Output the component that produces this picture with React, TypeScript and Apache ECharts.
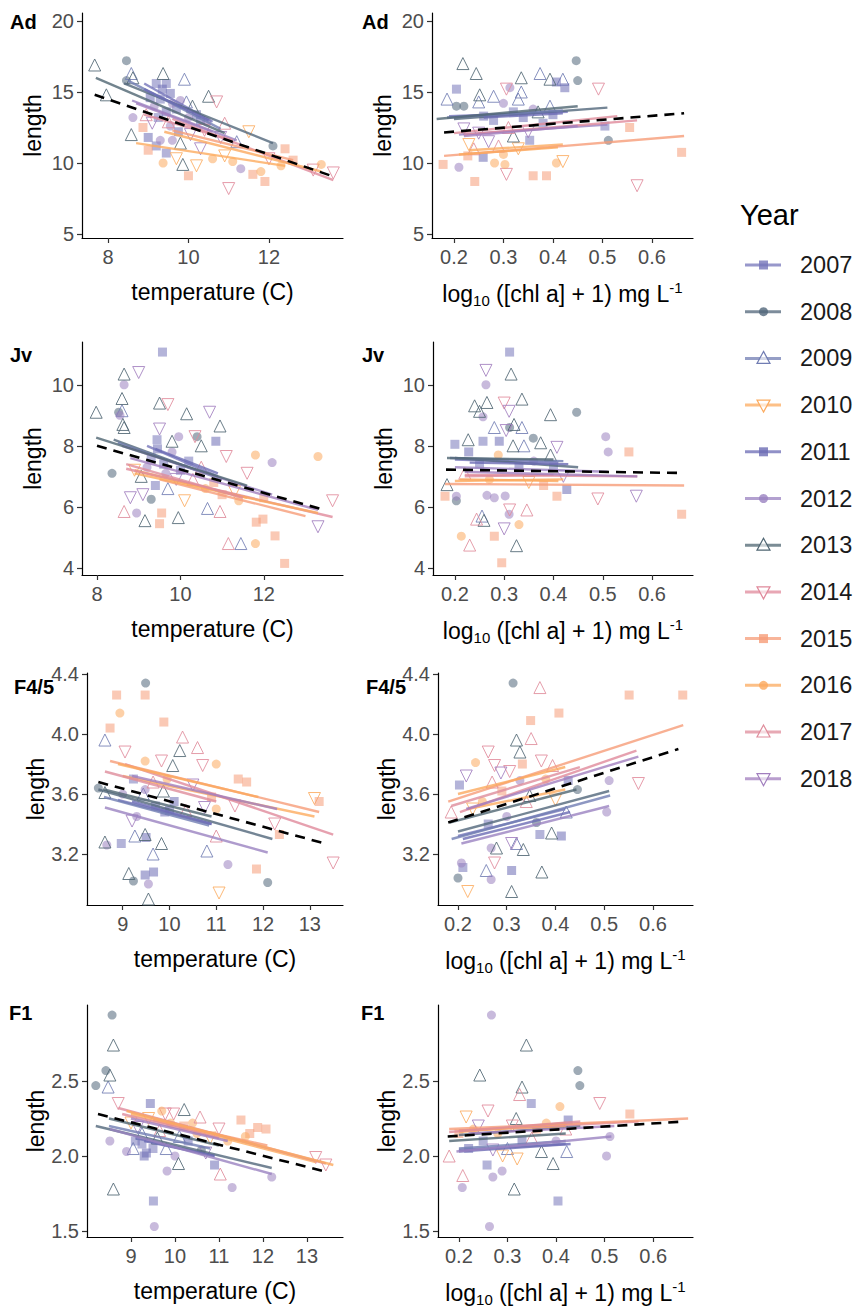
import React, { useEffect, useRef } from "react";
import * as echarts from "echarts";

// ---------- data ----------
const years = ["2007", "2008", "2009", "2010", "2011", "2012", "2013", "2014", "2015", "2016", "2017", "2018"];
const yearColors = ["#7676BA", "#51667A", "#717DB3", "#FCAB5F", "#6B6BB4", "#9A82C0", "#4F6572", "#E0899B", "#F69C78", "#FBA95E", "#DF8C9B", "#A17EBE"];
const yearShapes = ["square", "circle", "up", "down", "square", "circle", "up", "down", "square", "circle", "up", "down"];

const stageLabels = ["Ad", "Jv", "F4/5", "F1"];
const tempTicksA = [8, 10, 12];
const tempTicksB = [9, 10, 11, 12, 13];
const chlTicks = [0.2, 0.3, 0.4, 0.5, 0.6];
const adTicks = [5, 10, 15, 20];
const jvTicks = [4, 6, 8, 10];
const f45Ticks = [3.2, 3.6, 4.0, 4.4];
const f1Ticks = [1.5, 2.0, 2.5];

// points: [x, length, yearIndex]
const adTempPoints = [
  [7.67, 16.9, 6], [7.96, 14.8, 6], [8.46, 17.2, 1], [8.58, 16.3, 2], [8.62, 16.0, 6], [8.46, 15.8, 1], [8.58, 12.0, 6], [8.62, 13.2, 5], [8.87, 12.5, 8],
  [9.37, 16.3, 6], [9.9, 15.9, 2], [9.2, 15.6, 0], [9.35, 15.2, 4], [9.45, 15.6, 0], [9.55, 14.9, 4], [9.3, 14.5, 0], [9.6, 14.2, 5], [9.15, 14.0, 5],
  [9.7, 13.8, 0], [9.8, 14.4, 5], [9.45, 13.6, 4], [10.0, 13.2, 5], [10.2, 13.4, 0], [10.3, 13.0, 4], [10.5, 14.7, 6], [10.7, 14.3, 7], [9.95, 14.3, 2],
  [10.1, 14.0, 6], [9.3, 11.6, 5], [9.45, 10.7, 0], [9.37, 10.0, 9], [9.8, 11.4, 6], [9.86, 9.9, 6], [10.0, 9.1, 8], [11.5, 12.2, 3], [11.0, 8.2, 7],
  [12.1, 11.2, 1], [12.4, 11.0, 8], [11.9, 8.7, 8], [11.6, 9.2, 8], [11.3, 9.6, 5], [13.6, 9.3, 7], [13.3, 9.9, 9], [12.3, 9.8, 9], [9.0, 11.8, 4],
  [9.2, 11.2, 0], [9.6, 11.6, 5], [10.3, 11.0, 11], [10.6, 10.3, 9], [10.9, 10.5, 3], [11.1, 10.1, 9], [11.2, 11.5, 2], [10.8, 11.8, 11], [9.1, 12.8, 11],
  [8.95, 13.4, 10], [9.5, 12.9, 10], [10.4, 12.3, 7], [10.9, 12.8, 10], [12.0, 10.3, 7], [12.6, 10.2, 8], [13.1, 9.5, 7], [11.8, 9.4, 9], [10.2, 9.8, 3],
  [9.7, 10.3, 3], [9.0, 10.9, 8], [9.25, 13.2, 0], [9.55, 12.6, 5], [9.75, 12.2, 4], [10.45, 12.9, 5], [9.05, 14.6, 4], [10.05, 12.0, 11],
];
const adChlPoints = [
  [0.218, 17.0, 6], [0.245, 16.3, 6], [0.186, 14.5, 2], [0.252, 14.8, 6], [0.25, 14.3, 2], [0.336, 16.0, 6], [0.374, 16.3, 2], [0.394, 15.9, 6],
  [0.42, 15.9, 2], [0.336, 15.0, 2], [0.394, 14.0, 2], [0.32, 11.9, 6], [0.447, 17.2, 1], [0.45, 15.8, 1], [0.205, 14.0, 1], [0.22, 14.0, 1],
  [0.313, 15.3, 5], [0.512, 11.6, 1], [0.205, 15.2, 0], [0.407, 15.7, 4], [0.424, 15.3, 4], [0.505, 12.6, 0], [0.555, 12.5, 8], [0.66, 10.75, 8],
  [0.178, 9.9, 8], [0.242, 8.7, 8], [0.36, 9.1, 8], [0.387, 9.1, 8], [0.228, 10.5, 8], [0.259, 10.4, 4], [0.353, 11.6, 0], [0.492, 15.2, 7],
  [0.57, 8.4, 7], [0.306, 9.2, 7], [0.42, 10.1, 3], [0.306, 15.2, 7], [0.303, 9.9, 9], [0.407, 10.0, 9], [0.282, 10.0, 9], [0.21, 9.7, 5],
  [0.26, 13.3, 4], [0.28, 13.0, 0], [0.3, 14.2, 5], [0.32, 13.6, 0], [0.34, 13.2, 4], [0.36, 13.8, 5], [0.25, 12.1, 11], [0.27, 11.5, 11],
  [0.29, 11.2, 10], [0.31, 12.5, 10], [0.33, 11.0, 3], [0.23, 11.3, 3], [0.35, 12.2, 11], [0.38, 12.8, 0], [0.4, 13.4, 4], [0.3, 10.6, 9],
  [0.24, 11.0, 10], [0.22, 12.4, 11], [0.28, 14.7, 2], [0.33, 14.5, 2], [0.37, 13.6, 6],
];
const jvTempPoints = [
  [7.98, 9.1, 6], [8.65, 10.35, 6], [9.0, 10.4, 11], [8.65, 10.0, 5], [8.6, 9.55, 6], [8.6, 9.15, 2], [8.62, 8.7, 6], [8.65, 8.6, 6], [8.52, 9.1, 1],
  [8.55, 9.0, 5], [9.57, 11.07, 0], [9.5, 9.4, 6], [9.7, 9.35, 7], [10.15, 9.05, 6], [10.7, 9.1, 11], [10.95, 8.65, 6], [9.5, 8.55, 11], [9.44, 8.2, 0],
  [9.96, 8.3, 5], [10.4, 8.3, 1], [9.8, 8.15, 6], [10.35, 8.3, 7], [10.5, 8.0, 6], [10.85, 8.15, 4], [8.36, 7.1, 1], [11.1, 7.65, 7], [11.8, 7.7, 9],
  [12.2, 7.45, 5], [13.3, 7.65, 9], [11.6, 7.1, 7], [9.06, 7.0, 6], [8.8, 6.3, 11], [8.65, 5.85, 10], [8.95, 5.8, 5], [9.15, 5.55, 6], [9.3, 6.25, 1],
  [9.55, 5.8, 8], [9.5, 5.45, 8], [9.95, 5.65, 6], [10.1, 6.2, 3], [10.65, 5.95, 2], [10.95, 5.85, 10], [11.15, 4.8, 10], [11.45, 4.8, 2], [11.8, 4.8, 9],
  [11.82, 5.5, 8], [11.98, 5.6, 8], [12.27, 5.05, 8], [12.5, 4.15, 8], [13.3, 5.35, 11], [13.65, 6.2, 7], [9.3, 7.6, 0], [9.6, 7.4, 4], [9.8, 7.8, 5],
  [10.0, 7.2, 4], [9.4, 6.7, 0], [9.7, 6.6, 2], [10.3, 6.9, 10], [10.6, 6.6, 9], [11.0, 6.4, 8], [11.3, 6.5, 3], [9.2, 7.3, 5], [9.9, 6.9, 11],
  [10.5, 7.3, 10], [11.4, 6.2, 9], [12.0, 6.3, 8], [9.1, 6.4, 11], [8.9, 7.2, 3], [9.45, 7.9, 4], [9.65, 7.1, 5], [10.2, 7.5, 0], [10.8, 6.8, 8],
];
const jvChlPoints = [
  [0.311, 11.07, 0], [0.263, 10.47, 11], [0.314, 10.35, 6], [0.263, 10.0, 5], [0.24, 9.31, 6], [0.265, 9.42, 6], [0.25, 9.13, 6], [0.336, 9.53, 6],
  [0.32, 8.7, 6], [0.28, 8.6, 2], [0.394, 9.02, 6], [0.227, 8.2, 6], [0.318, 8.0, 6], [0.34, 8.0, 2], [0.374, 8.1, 6], [0.336, 8.6, 2], [0.394, 7.7, 6],
  [0.30, 9.4, 7], [0.31, 9.13, 11], [0.304, 8.5, 11], [0.407, 7.95, 11], [0.257, 8.95, 5], [0.311, 8.6, 1], [0.359, 8.25, 1], [0.447, 9.1, 1],
  [0.506, 8.3, 5], [0.511, 7.8, 5], [0.288, 7.7, 9], [0.2, 8.05, 0], [0.257, 8.15, 0], [0.29, 8.15, 4], [0.228, 7.8, 4], [0.553, 7.8, 8],
  [0.184, 6.73, 6], [0.203, 6.35, 5], [0.203, 6.2, 1], [0.265, 6.38, 5], [0.302, 6.36, 5], [0.31, 5.76, 5], [0.28, 6.3, 5], [0.18, 6.35, 8],
  [0.407, 6.35, 8], [0.427, 6.57, 4], [0.66, 5.76, 8], [0.28, 5.04, 8], [0.295, 4.17, 8], [0.49, 6.26, 7], [0.568, 6.35, 11], [0.30, 5.28, 11],
  [0.311, 5.9, 7], [0.259, 5.56, 6], [0.255, 5.7, 2], [0.325, 4.73, 6], [0.23, 4.75, 10], [0.346, 5.9, 10], [0.244, 5.6, 10], [0.213, 5.04, 9],
  [0.33, 5.42, 9], [0.25, 7.4, 0], [0.33, 7.3, 4], [0.36, 7.5, 5], [0.4, 7.3, 0], [0.27, 6.9, 9], [0.35, 6.8, 3], [0.22, 7.1, 10], [0.38, 6.7, 8],
  [0.42, 7.0, 11],
];
const f45TempPoints = [
  [9.49, 4.34, 1], [9.48, 4.26, 8], [8.87, 4.26, 8], [8.73, 4.04, 8], [8.94, 4.14, 9], [9.88, 4.08, 8], [8.62, 3.96, 2], [10.28, 3.98, 10],
  [10.22, 3.89, 6], [10.6, 3.91, 10], [10.07, 3.79, 6], [9.05, 3.88, 7], [9.83, 3.82, 7], [10.71, 3.79, 7], [9.48, 3.82, 9], [11.0, 3.8, 9],
  [11.47, 3.7, 8], [11.65, 3.68, 8], [9.23, 3.7, 0], [9.48, 3.63, 5], [9.65, 3.68, 10], [8.48, 3.64, 1], [9.0, 3.6, 5], [8.62, 3.61, 6],
  [9.87, 3.62, 6], [9.44, 3.6, 2], [13.5, 3.14, 7], [13.1, 3.57, 3], [13.2, 3.55, 8], [11.06, 2.94, 3], [12.1, 3.01, 1], [11.25, 3.13, 5],
  [11.86, 3.1, 8], [10.8, 3.22, 2], [11.0, 3.32, 10], [8.66, 3.26, 5], [8.62, 3.28, 6], [8.97, 3.27, 0], [9.26, 3.32, 2], [9.48, 3.33, 6],
  [9.5, 3.31, 4], [9.83, 3.27, 6], [9.65, 3.2, 2], [9.13, 3.07, 6], [9.23, 3.02, 1], [9.48, 3.06, 4], [9.66, 3.08, 4], [9.55, 3.0, 5], [9.55, 2.9, 6],
  [9.9, 3.48, 4], [10.0, 3.49, 0], [10.35, 3.49, 10], [10.75, 3.51, 11], [11.0, 3.5, 9], [12.35, 3.33, 8], [12.25, 3.4, 7], [9.3, 3.45, 5],
  [9.7, 3.52, 0], [10.1, 3.55, 4], [10.5, 3.66, 11], [10.9, 3.58, 8], [11.4, 3.52, 7], [9.2, 3.42, 11], [9.95, 3.7, 9],
];
const f45ChlPoints = [
  [0.313, 4.34, 1], [0.368, 4.31, 10], [0.551, 4.26, 8], [0.661, 4.26, 8], [0.407, 4.14, 8], [0.349, 4.09, 8], [0.32, 3.96, 6], [0.327, 3.88, 6],
  [0.35, 3.97, 10], [0.394, 3.79, 10], [0.262, 3.88, 7], [0.275, 3.79, 7], [0.288, 3.74, 11], [0.371, 3.82, 7], [0.217, 3.72, 11], [0.306, 3.75, 7],
  [0.57, 3.67, 7], [0.332, 3.8, 8], [0.203, 3.66, 0], [0.426, 3.69, 4], [0.236, 3.81, 9], [0.327, 3.69, 5], [0.445, 3.63, 1], [0.51, 3.69, 5],
  [0.505, 3.48, 5], [0.361, 3.41, 1], [0.186, 3.48, 10], [0.422, 3.48, 2], [0.347, 3.59, 6], [0.279, 3.24, 6], [0.334, 3.23, 6], [0.392, 3.34, 6],
  [0.372, 3.08, 6], [0.258, 3.09, 2], [0.31, 2.95, 6], [0.32, 3.27, 2], [0.2, 3.04, 1], [0.207, 3.14, 5], [0.268, 3.03, 5], [0.31, 3.27, 11],
  [0.268, 3.24, 5], [0.21, 3.11, 0], [0.31, 3.09, 4], [0.368, 3.33, 0], [0.412, 3.32, 4], [0.262, 3.4, 0], [0.22, 2.95, 3], [0.275, 3.14, 7],
  [0.25, 3.55, 9], [0.29, 3.62, 8], [0.34, 3.55, 10], [0.38, 3.7, 9], [0.3, 3.45, 5], [0.23, 3.5, 3], [0.4, 3.56, 3], [0.27, 3.68, 10],
];
const f1TempPoints = [
  [8.57, 2.94, 1], [8.6, 2.74, 6], [8.2, 2.47, 1], [8.43, 2.57, 1], [8.52, 2.54, 6], [8.48, 2.46, 2], [8.6, 1.78, 6], [8.52, 2.1, 5], [8.71, 2.35, 7],
  [9.44, 2.35, 4], [9.78, 2.28, 7], [9.97, 2.28, 7], [10.21, 2.31, 6], [10.57, 2.26, 10], [9.51, 1.7, 0], [9.53, 1.53, 5], [9.82, 1.9, 5],
  [11.3, 1.79, 5], [12.2, 1.86, 5], [10.08, 1.95, 6], [11.03, 1.88, 10], [11.5, 2.24, 8], [11.88, 2.19, 8], [12.07, 2.18, 8], [11.7, 2.15, 8],
  [11.0, 2.18, 7], [13.2, 1.99, 7], [13.43, 1.94, 7], [8.9, 2.03, 5], [9.1, 2.1, 0], [9.3, 2.0, 4], [9.25, 2.15, 2], [9.6, 2.12, 6], [9.5, 2.05, 0],
  [9.8, 2.05, 2], [9.9, 2.22, 9], [10.0, 2.0, 5], [10.3, 2.1, 4], [10.5, 2.15, 9], [10.7, 2.02, 11], [10.9, 1.94, 4], [11.2, 2.1, 9], [10.2, 2.2, 8],
  [9.7, 2.3, 9], [9.0, 2.22, 3], [9.4, 2.25, 3], [10.6, 2.04, 1], [9.05, 2.05, 2], [9.35, 2.02, 4], [10.8, 2.12, 3], [9.15, 2.19, 11], [9.65, 2.17, 10],
  [10.4, 2.22, 9], [11.6, 2.13, 9], [9.25, 2.08, 0], [10.1, 2.13, 2],
];
const f1ChlPoints = [
  [0.267, 2.94, 5], [0.339, 2.74, 6], [0.243, 2.54, 6], [0.33, 2.46, 6], [0.445, 2.57, 1], [0.449, 2.47, 1], [0.49, 2.35, 7], [0.26, 2.3, 7],
  [0.215, 2.26, 3], [0.349, 2.35, 0], [0.425, 2.24, 4], [0.552, 2.28, 8], [0.325, 2.41, 10], [0.318, 2.25, 6], [0.408, 2.33, 9], [0.18, 2.0, 10],
  [0.208, 1.87, 10], [0.37, 2.03, 6], [0.394, 1.95, 6], [0.422, 2.03, 2], [0.314, 1.78, 6], [0.207, 1.79, 5], [0.27, 1.86, 5], [0.289, 1.9, 5],
  [0.504, 2.0, 5], [0.511, 2.13, 5], [0.263, 1.53, 5], [0.258, 1.94, 0], [0.404, 1.7, 0], [0.22, 2.05, 4], [0.25, 2.1, 0], [0.28, 2.15, 9],
  [0.3, 2.05, 2], [0.33, 2.1, 4], [0.36, 2.18, 8], [0.24, 2.2, 11], [0.29, 2.0, 3], [0.35, 2.12, 10], [0.38, 2.22, 9], [0.31, 2.2, 7],
  [0.27, 2.04, 11], [0.4, 2.1, 5], [0.2, 2.15, 8], [0.23, 2.18, 9], [0.32, 1.98, 3], [0.42, 2.18, 10],
];

// per-year regression segments: [x1, y1, x2, y2]
const adTempLines = [
  [8.9, 15.6, 10.6, 12.9], [8.4, 15.6, 12.1, 11.4], [8.5, 15.8, 10.8, 12.4], [8.7, 11.4, 12.4, 9.8], [8.9, 15.2, 10.5, 13.0], [8.6, 14.4, 11.2, 11.6],
  [7.7, 16.0, 10.9, 12.1], [9.6, 13.1, 13.6, 8.8], [9.6, 12.3, 12.6, 10.2], [9.4, 12.2, 13.3, 9.4], [8.9, 13.4, 11.1, 11.6], [8.7, 14.2, 10.6, 12.2],
];
const adChlLines = [
  [0.19, 13.3, 0.43, 13.6], [0.2, 13.1, 0.51, 13.9], [0.186, 13.2, 0.42, 13.7], [0.23, 10.9, 0.42, 11.3], [0.26, 13.2, 0.42, 13.5], [0.21, 12.0, 0.51, 12.7],
  [0.165, 13.1, 0.45, 14.0], [0.22, 12.0, 0.57, 13.0], [0.18, 10.5, 0.665, 11.9], [0.21, 10.6, 0.41, 11.1], [0.2, 12.1, 0.53, 13.3], [0.22, 11.9, 0.45, 12.6],
];
const jvTempLines = [
  [9.2, 8.0, 10.9, 7.0], [8.4, 8.2, 10.4, 7.2], [8.5, 8.1, 11.0, 6.9], [8.9, 7.2, 11.6, 6.3], [9.4, 7.9, 10.9, 7.1], [8.6, 8.0, 12.2, 6.4],
  [7.98, 8.27, 11.6, 6.7], [8.7, 7.25, 13.65, 5.67], [9.5, 6.9, 13.0, 5.7], [8.9, 7.1, 13.3, 5.8], [8.7, 7.4, 11.5, 6.3], [8.8, 7.6, 13.3, 5.9],
];
const jvChlLines = [
  [0.2, 7.55, 0.41, 7.45], [0.2, 7.6, 0.45, 7.3], [0.19, 7.6, 0.42, 7.5], [0.2, 6.85, 0.42, 6.9], [0.23, 7.45, 0.43, 7.4], [0.2, 7.3, 0.51, 7.15],
  [0.184, 7.6, 0.4, 7.55], [0.22, 7.05, 0.57, 7.0], [0.18, 6.75, 0.665, 6.7], [0.21, 6.9, 0.41, 6.85], [0.22, 7.0, 0.4, 7.05], [0.22, 7.15, 0.57, 7.0],
];
const f45TempLines = [
  [8.9, 3.56, 10.9, 3.4], [8.48, 3.63, 12.2, 3.3], [8.6, 3.58, 10.85, 3.39], [9.0, 3.72, 13.1, 3.45], [9.2, 3.55, 10.9, 3.4], [8.62, 3.51, 12.1, 3.21],
  [8.6, 3.63, 10.9, 3.45], [9.05, 3.8, 13.5, 3.33], [8.73, 3.82, 13.2, 3.48], [8.9, 3.8, 11.9, 3.58], [8.62, 3.75, 11.0, 3.55], [9.2, 3.72, 12.3, 3.5],
];
const f45ChlLines = [
  [0.2, 3.32, 0.42, 3.5], [0.2, 3.35, 0.51, 3.62], [0.187, 3.3, 0.512, 3.59], [0.22, 3.5, 0.42, 3.63], [0.21, 3.3, 0.43, 3.48], [0.207, 3.27, 0.51, 3.52],
  [0.183, 3.41, 0.443, 3.63], [0.204, 3.48, 0.566, 3.89], [0.18, 3.55, 0.662, 4.06], [0.2, 3.6, 0.42, 3.78], [0.186, 3.52, 0.45, 3.78], [0.217, 3.5, 0.57, 3.85],
];
const f1TempLines = [
  [9.1, 2.12, 10.9, 2.0], [8.2, 2.2, 12.2, 1.92], [8.5, 2.2, 10.8, 2.05], [9.0, 2.28, 13.2, 1.96], [9.3, 2.1, 10.9, 2.0], [8.52, 2.18, 12.2, 1.88],
  [8.5, 2.25, 11.0, 2.07], [8.71, 2.32, 13.43, 1.95], [9.5, 2.24, 12.1, 2.07], [8.9, 2.3, 13.6, 1.94], [8.8, 2.28, 11.0, 2.12], [9.0, 2.25, 11.2, 2.1],
];
const f1ChlLines = [
  [0.2, 2.04, 0.42, 2.08], [0.2, 2.14, 0.45, 2.2], [0.2, 2.05, 0.42, 2.1], [0.2, 2.17, 0.42, 2.2], [0.2, 2.03, 0.43, 2.08], [0.195, 2.03, 0.514, 2.13],
  [0.18, 2.1, 0.42, 2.15], [0.2, 2.17, 0.57, 2.23], [0.18, 2.18, 0.672, 2.25], [0.2, 2.16, 0.42, 2.22], [0.18, 2.16, 0.45, 2.23], [0.22, 2.15, 0.52, 2.2],
];
// overall fits (dashed)
const overallLines = [
  [7.67, 14.8, 13.6, 9.05], [0.18, 12.15, 0.665, 13.5],
  [8.0, 8.0, 13.37, 5.93], [0.182, 7.22, 0.663, 7.11],
  [8.48, 3.68, 13.32, 3.27], [0.18, 3.41, 0.652, 3.9],
  [8.25, 2.28, 13.37, 1.9], [0.177, 2.13, 0.662, 2.23],
];

// ---------- layout ----------
const FONT = "'Liberation Sans', Arial, Helvetica, sans-serif";
const panels = [
  { pts: adTempPoints, lines: adTempLines, grid: [82, 13, 261, 225], x: [7.355, 13.84], y: [4.72, 20.56], xt: tempTicksA, yt: adTicks, chl: false, yd: 0 },
  { pts: adChlPoints, lines: adChlLines, grid: [432, 13, 261, 225], x: [0.1556, 0.683], y: [4.72, 20.56], xt: chlTicks, yt: adTicks, chl: true, yd: 0 },
  { pts: jvTempPoints, lines: jvTempLines, grid: [82, 342, 261, 233], x: [7.64, 13.9], y: [3.77, 11.4], xt: tempTicksA, yt: jvTicks, chl: false, yd: 0 },
  { pts: jvChlPoints, lines: jvChlLines, grid: [433, 342, 260, 233], x: [0.1556, 0.683], y: [3.77, 11.4], xt: chlTicks, yt: jvTicks, chl: true, yd: 0 },
  { pts: f45TempPoints, lines: f45TempLines, grid: [87, 673, 256, 232], x: [8.237, 13.71], y: [2.86, 4.407], xt: tempTicksB, yt: f45Ticks, chl: false, yd: 1 },
  { pts: f45ChlPoints, lines: f45ChlLines, grid: [438, 673, 255, 232], x: [0.159, 0.682], y: [2.86, 4.407], xt: chlTicks, yt: f45Ticks, chl: true, yd: 1 },
  { pts: f1TempPoints, lines: f1TempLines, grid: [87, 1005, 256, 232], x: [8.0, 13.82], y: [1.46, 3.007], xt: tempTicksB, yt: f1Ticks, chl: false, yd: 1 },
  { pts: f1ChlPoints, lines: f1ChlLines, grid: [438, 1005, 255, 232], x: [0.157, 0.682], y: [1.46, 3.007], xt: chlTicks, yt: f1Ticks, chl: true, yd: 1 },
];
const panelLabelPos = [[10, 22], [362, 22], [10, 355], [362, 355], [14, 687], [366, 687], [9, 1013], [361, 1013]];

function symbolOf(shape: string) {
  if (shape === "square") return { symbol: "rect", size: 9, rotate: 0 };
  if (shape === "circle") return { symbol: "circle", size: 9, rotate: 0 };
  if (shape === "up") return { symbol: "triangle", size: 12, rotate: 0 };
  return { symbol: "triangle", size: 12, rotate: 180 };
}

function buildOption() {
  const grid: any[] = [];
  const xAxis: any[] = [];
  const yAxis: any[] = [];
  const series: any[] = [];
  const graphic: any[] = [];

  panels.forEach((p, pi) => {
    grid.push({ left: p.grid[0], top: p.grid[1], width: p.grid[2], height: p.grid[3], containLabel: false });
    const xName = p.chl ? "{a|log}{s|10}{a| ([chl a] + 1) mg L}{p|-1}" : "temperature (C)";
    xAxis.push({
      type: "value", gridIndex: pi, min: p.x[0], max: p.x[1],
      name: xName, nameLocation: "middle", nameGap: 42,
      nameTextStyle: {
        fontSize: 23, color: "#000", fontFamily: FONT,
        rich: {
          a: { fontSize: 23, color: "#000", fontFamily: FONT, lineHeight: 28, verticalAlign: "middle" },
          s: { fontSize: 15, color: "#000", fontFamily: FONT, lineHeight: 28, verticalAlign: "bottom", padding: [11, 0, 0, 0] },
          p: { fontSize: 15, color: "#000", fontFamily: FONT, lineHeight: 28, verticalAlign: "top", padding: [0, 0, 11, 0] },
        },
      },
      splitLine: { show: false },
      axisLine: { show: true, onZero: false, lineStyle: { color: "#000", width: 1.2 } },
      axisTick: { show: true, length: 5, customValues: p.xt, lineStyle: { color: "#333", width: 1.2 } },
      axisLabel: {
        customValues: p.xt, fontSize: 20, color: "#4D4D4D", fontFamily: FONT, margin: 9,
        formatter: (v: number) => (p.chl ? v.toFixed(1) : String(Math.round(v))),
      },
    });
    yAxis.push({
      type: "value", gridIndex: pi, min: p.y[0], max: p.y[1],
      name: "length", nameLocation: "middle", nameGap: 38, nameRotate: 90,
      nameTextStyle: { fontSize: 23, color: "#000", fontFamily: FONT },
      splitLine: { show: false },
      axisLine: { show: true, onZero: false, lineStyle: { color: "#000", width: 1.2 } },
      axisTick: { show: true, length: 5, customValues: p.yt, lineStyle: { color: "#333", width: 1.2 } },
      axisLabel: {
        customValues: p.yt, fontSize: 20, color: "#4D4D4D", fontFamily: FONT, margin: 8,
        formatter: (v: number) => (p.yd ? v.toFixed(1) : String(Math.round(v))),
      },
    });

    years.forEach((yr, yi) => {
      const sh = yearShapes[yi];
      const sym = symbolOf(sh);
      const open = sh === "up" || sh === "down";
      const col = yearColors[yi];
      series.push({
        type: "scatter", name: yr, xAxisIndex: pi, yAxisIndex: pi,
        symbol: sym.symbol, symbolSize: sym.size, symbolRotate: sym.rotate,
        data: p.pts.filter((d) => d[2] === yi).map((d) => [d[0], d[1]]),
        itemStyle: open
          ? { color: "rgba(255,255,255,0)", borderColor: col, borderWidth: 1, opacity: 0.85 }
          : { color: col, opacity: 0.55, borderWidth: 0 },
        z: 2, silent: true,
      });
      const l = p.lines[yi];
      series.push({
        type: "line", name: yr + " fit", xAxisIndex: pi, yAxisIndex: pi,
        data: [[l[0], l[1]], [l[2], l[3]]], symbol: "none",
        lineStyle: { color: col, width: 2.4, opacity: 0.8 }, z: 3, silent: true,
      });
    });
    const o = overallLines[pi];
    series.push({
      type: "line", name: "overall", xAxisIndex: pi, yAxisIndex: pi,
      data: [[o[0], o[1]], [o[2], o[3]]], symbol: "none",
      lineStyle: { color: "#000", width: 2.6, type: [10, 7] }, z: 4, silent: true,
    });

    const lp = panelLabelPos[pi];
    graphic.push({
      type: "text", x: lp[0], y: lp[1], z: 10,
      style: { text: stageLabels[Math.floor(pi / 2)], fill: "#000", font: `bold 20px ${FONT}`, verticalAlign: "middle" },
    });
  });

  // legend
  graphic.push({
    type: "text", x: 740, y: 215, z: 10,
    style: { text: "Year", font: `29px ${FONT}`, fill: "#000", verticalAlign: "middle" },
  });
  years.forEach((yr, yi) => {
    const cy = 265 + yi * 46.7;
    const col = yearColors[yi];
    const sh = yearShapes[yi];
    graphic.push({ type: "line", z: 10, shape: { x1: 745, y1: cy, x2: 781, y2: cy }, style: { stroke: col, lineWidth: 3, opacity: 0.75 } });
    if (sh === "square") {
      graphic.push({ type: "rect", z: 11, shape: { x: 759, y: cy - 4.5, width: 9, height: 9 }, style: { fill: col, opacity: 0.8 } });
    } else if (sh === "circle") {
      graphic.push({ type: "circle", z: 11, shape: { cx: 763.5, cy, r: 4.5 }, style: { fill: col, opacity: 0.8 } });
    } else if (sh === "up") {
      graphic.push({ type: "polygon", z: 11, shape: { points: [[763.5, cy - 7], [770, cy + 5], [757, cy + 5]] }, style: { fill: "rgba(255,255,255,0.6)", stroke: col, lineWidth: 1.2 } });
    } else {
      graphic.push({ type: "polygon", z: 11, shape: { points: [[763.5, cy + 7], [770, cy - 5], [757, cy - 5]] }, style: { fill: "rgba(255,255,255,0.6)", stroke: col, lineWidth: 1.2 } });
    }
    graphic.push({ type: "text", z: 10, x: 800, y: cy, style: { text: yr, font: `23.5px ${FONT}`, fill: "#1A1A1A", verticalAlign: "middle" } });
  });

  return {
    animation: false,
    backgroundColor: "#fff",
    grid, xAxis, yAxis, series, graphic,
  };
}

export default function App() {
  const ref = useRef<HTMLDivElement>(null);
  useEffect(() => {
    document.body.style.margin = "0";
    if (!ref.current) return;
    const chart = echarts.init(ref.current, null, { renderer: "svg" });
    chart.setOption(buildOption() as any);
    return () => chart.dispose();
  }, []);
  return <div ref={ref} style={{ width: 861, height: 1311 }} />;
}
